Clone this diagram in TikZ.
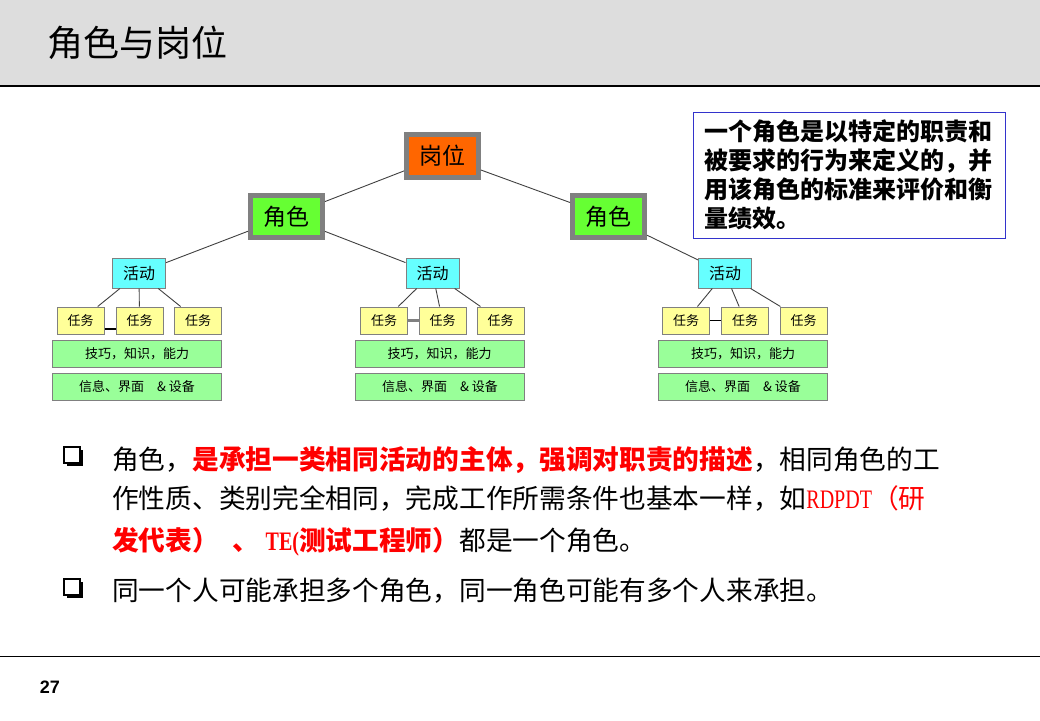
\documentclass[tikz,border=0pt]{standalone}
\usepackage{fontspec}
\setmainfont{Noto Sans CJK SC}
\newfontfamily\latinserif[FakeStretch=0.75]{Liberation Serif}
\newfontfamily\arialfont{Liberation Sans}
\usepackage{tikz}
\usetikzlibrary{shadows}

\definecolor{headgray}{HTML}{DDDDDD}
\definecolor{framegray}{HTML}{808080}
\definecolor{orangebox}{HTML}{FF6600}
\definecolor{rolegreen}{HTML}{66FF33}
\definecolor{actcyan}{HTML}{66FFFF}
\definecolor{taskyellow}{HTML}{FFFF99}
\definecolor{condgreen}{HTML}{99FF99}
\definecolor{noteblue}{HTML}{3333CC}
\definecolor{redtext}{HTML}{FF0000}

\newcommand{\latinpart}[1]{{\latinserif #1}}

\begin{document}
\begin{tikzpicture}[
    x=1pt, y=-1pt,
    gangwei/.style={
        draw=framegray,
        line width=5pt,
        fill=orangebox,
        minimum width=72pt,
        minimum height=43pt,
        font=\fontsize{23}{27}\selectfont
    },
    juese/.style={gangwei, fill=rolegreen, minimum height=42pt},
    huodong/.style={
        draw=framegray,
        line width=1pt,
        fill=actcyan,
        minimum width=53pt,
        minimum height=30pt,
        font=\fontsize{16}{19}\selectfont
    },
    renwu/.style={huodong, fill=taskyellow, minimum width=47pt,
        minimum height=27pt, font=\fontsize{13}{16}\selectfont},
    tiaojian/.style={renwu, fill=condgreen, minimum width=169pt},
    lianxian/.style={draw=black!75, line width=0.9pt},
    linea/.style={anchor=base west, inner sep=0pt,
        font=\fontsize{26.7}{32}\selectfont},
    casilla/.style={draw, line width=1.2pt, fill=white, minimum size=16pt,
        inner sep=0pt, drop shadow={shadow xshift=3pt, shadow yshift=-3pt,
        fill=black, opacity=1}}
]
    \useasboundingbox (0,0) rectangle (1040,720);

    % cabecera
    \fill[headgray] (0,0) rectangle (1040,86);
    \draw[line width=1.5pt] (0,86) -- (1040,86);
    \node[anchor=west, inner sep=0pt, font=\fontsize{36}{40}\selectfont]
        (titulo) at (47,43) {角色与岗位};

    % arbol
    \node[gangwei] (gw) at (442.5,156) {岗位};
    \node[juese] (jsL) at (286.5,216.5) {角色};
    \node[juese] (jsR) at (608.5,216.5) {角色};

    \node[huodong] (hd1) at (139,273) {活动};
    \node[huodong] (hd2) at (432.5,273) {活动};
    \node[huodong] (hd3) at (725,273) {活动};

    \node[renwu] (rw11) at (80.5,320.5) {任务};
    \node[renwu] (rw12) at (139.5,320.5) {任务};
    \node[renwu] (rw13) at (198,320.5) {任务};
    \node[renwu] (rw21) at (384,320.5) {任务};
    \node[renwu] (rw22) at (442.5,320.5) {任务};
    \node[renwu] (rw23) at (500.5,320.5) {任务};
    \node[renwu] (rw31) at (686,320.5) {任务};
    \node[renwu] (rw32) at (745,320.5) {任务};
    \node[renwu] (rw33) at (803.5,320.5) {任务};

    \node[tiaojian] (jn1) at (137,353.5) {技巧，知识，能力};
    \node[tiaojian] (jn2) at (439.5,353.5) {技巧，知识，能力};
    \node[tiaojian] (jn3) at (743,353.5) {技巧，知识，能力};
    \node[tiaojian] (xx1) at (137,386.5) {信息、界面\hspace{1em}\& 设备};
    \node[tiaojian] (xx2) at (440,386.5) {信息、界面\hspace{1em}\& 设备};
    \node[tiaojian] (xx3) at (743,386.5) {信息、界面\hspace{1em}\& 设备};

    \draw[lianxian] (gw) -- (jsL);
    \draw[lianxian] (gw) -- (jsR);
    \draw[lianxian] (jsL) -- (hd1);
    \draw[lianxian] (jsL) -- (hd2);
    \draw[lianxian] (jsR) -- (hd3);
    \draw[lianxian] (hd1) -- (rw11);
    \draw[lianxian] (hd1) -- (rw12);
    \draw[lianxian] (hd1) -- (rw13);
    \draw[lianxian] (hd2) -- (rw21);
    \draw[lianxian] (hd2) -- (rw22);
    \draw[lianxian] (hd2) -- (rw23);
    \draw[lianxian] (hd3) -- (rw31);
    \draw[lianxian] (hd3) -- (rw32);
    \draw[lianxian] (hd3) -- (rw33);
    \draw[line width=1.2pt] ([yshift=-8.5pt]rw11.east) -- ([yshift=-8.5pt]rw12.west);
    \draw[framegray, line width=2.5pt] (rw21.east) -- (rw22.west);
    \draw[line width=1.2pt] (rw31.east) -- (rw32.west);

    % nota
    \node[draw=noteblue, line width=1pt, minimum width=312pt, minimum height=126pt,
        text width=290pt, align=left, font=\fontsize{24}{29}\selectfont\bfseries]
        (nota) at (849,175)
        {一个角色是以特定的职责和\\被要求的行为来定义的，并\\用该角色的标准来评价和衡\\量绩效。};

    % texto
    \node[casilla] (v1) at (72,455) {};
    \node[linea] (l1) at (112,469)
        {角色，\textcolor{redtext}{\bfseries 是承担一类相同活动的主体，强调对职责的描述}，相同角色的工};
    \node[linea] (l2) at (112,508.5)
        {作性质、类别完全相同，完成工作所需条件也基本一样，如\textcolor{redtext}{\latinpart{RDPDT}（研}};
    \node[linea] (l3) at (112,550)
        {\textcolor{redtext}{\bfseries 发代表）\hspace{0.5em}、\hspace{0.25em}\latinpart{\bfseries TE(}测试工程师）}都是一个角色。};
    \node[casilla] (v2) at (72,587) {};
    \node[linea] (l4) at (112,600)
        {同一个人可能承担多个角色，同一角色可能有多个人来承担。};

    % pie
    \draw[line width=1pt] (0,656) -- (1040,656);
    \node[font=\arialfont\bfseries\fontsize{18}{20}\selectfont] (pagina) at (50,687) {27};
\end{tikzpicture}
\end{document}
